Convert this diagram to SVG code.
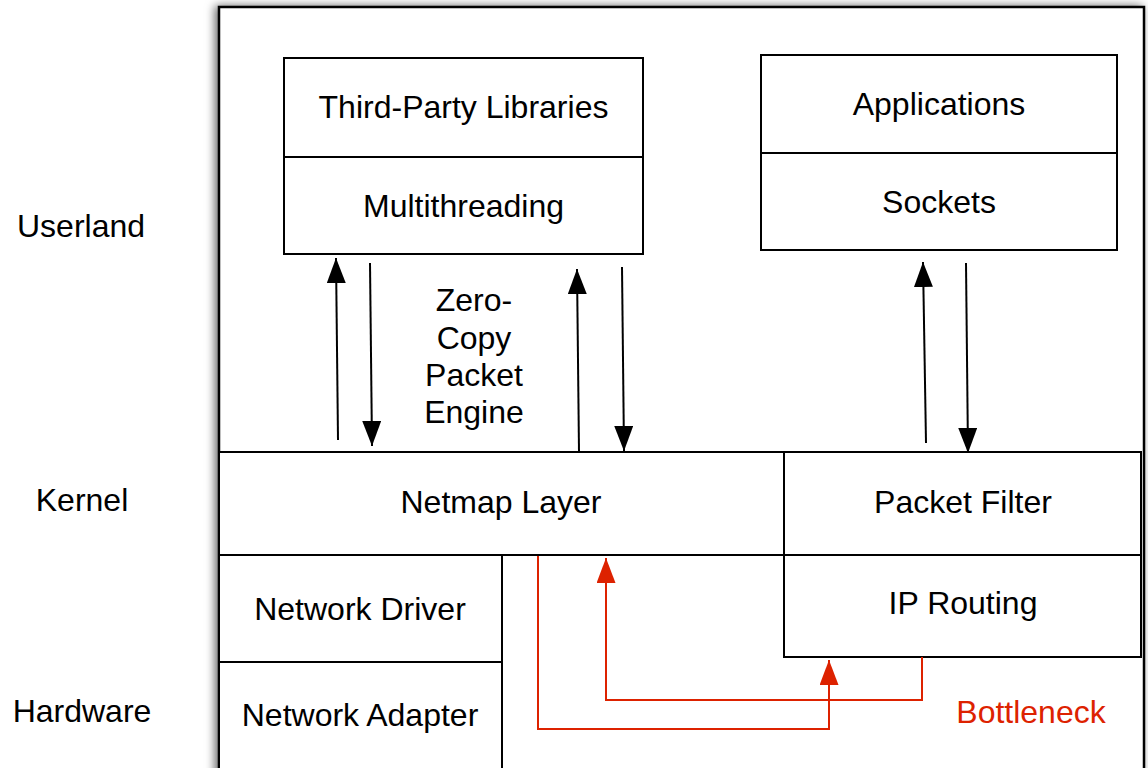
<svg xmlns="http://www.w3.org/2000/svg" width="1148" height="768" viewBox="0 0 1148 768">
  <style>
    .box { fill: #ffffff; stroke: #000000; stroke-width: 2; }
    .lbl { font-family: "Liberation Sans", Arial, Helvetica, sans-serif; font-size: 32px; fill: #000000; text-anchor: middle; }
    .red { fill: #dd2200; }
    .arr { stroke: #000000; stroke-width: 2; fill: none; marker-end: url(#ah); }
    .rarr { stroke: #dd2200; stroke-width: 2; fill: none; }
  </style>
  <defs>
    <marker id="ah" viewBox="0 0 25 19" refX="25" refY="9.5" markerWidth="25" markerHeight="19" markerUnits="userSpaceOnUse" orient="auto">
      <path d="M0,0 L25,9.5 L0,19 Z" fill="#000000"/>
    </marker>
    <marker id="rh" viewBox="0 0 25 19" refX="25" refY="9.5" markerWidth="25" markerHeight="19" markerUnits="userSpaceOnUse" orient="auto">
      <path d="M0,0 L25,9.5 L0,19 Z" fill="#dd2200"/>
    </marker>
    <filter id="shadow" x="-5%" y="-5%" width="110%" height="110%">
      <feDropShadow dx="-3" dy="0" stdDeviation="5" flood-color="#000000" flood-opacity="0.6"/>
    </filter>
  </defs>

  <rect width="1148" height="768" fill="#ffffff"/>

  <!-- outer frame -->
  <g id="frame">
    <rect x="219" y="7" width="925" height="790" fill="#ffffff" stroke="#000000" stroke-width="2.5" filter="url(#shadow)"/>
  </g>

  <!-- layer labels -->
  <g id="layer-labels">
    <text class="lbl" x="81" y="237">Userland</text>
    <text class="lbl" x="82" y="511">Kernel</text>
    <text class="lbl" x="82" y="722">Hardware</text>
  </g>

  <!-- userland stacks -->
  <g id="third-party">
    <rect class="box" x="284" y="58" width="359" height="99"/>
    <text class="lbl" x="463.5" y="118">Third-Party Libraries</text>
  </g>
  <g id="multithreading">
    <rect class="box" x="284" y="157" width="359" height="97"/>
    <text class="lbl" x="463.5" y="217">Multithreading</text>
  </g>
  <g id="applications">
    <rect class="box" x="761" y="55" width="356" height="98"/>
    <text class="lbl" x="939" y="115">Applications</text>
  </g>
  <g id="sockets">
    <rect class="box" x="761" y="153" width="356" height="97"/>
    <text class="lbl" x="939" y="213">Sockets</text>
  </g>

  <g id="zero-copy">
    <text class="lbl" x="474" y="311">Zero-</text>
    <text class="lbl" x="474" y="349">Copy</text>
    <text class="lbl" x="474" y="386">Packet</text>
    <text class="lbl" x="474" y="423">Engine</text>
  </g>

  <!-- kernel -->
  <g id="netmap">
    <rect class="box" x="219" y="452" width="565" height="103"/>
    <text class="lbl" x="501" y="513">Netmap Layer</text>
  </g>
  <g id="packet-filter">
    <rect class="box" x="784" y="452" width="357" height="103"/>
    <text class="lbl" x="963" y="513">Packet Filter</text>
  </g>
  <g id="ip-routing">
    <rect class="box" x="784" y="555" width="357" height="102"/>
    <text class="lbl" x="963" y="614">IP Routing</text>
  </g>

  <!-- drivers / hardware -->
  <g id="network-driver">
    <rect class="box" x="219" y="555" width="283" height="107"/>
    <text class="lbl" x="360" y="620">Network Driver</text>
  </g>
  <g id="network-adapter">
    <rect class="box" x="219" y="662" width="283" height="120"/>
    <text class="lbl" x="360" y="726">Network Adapter</text>
  </g>

  <g id="bottleneck">
    <text class="lbl red" x="1031" y="723">Bottleneck</text>
  </g>

  <!-- connectors -->
  <g id="connectors">
    <line class="arr" x1="338" y1="440" x2="336" y2="258"/>
    <line class="arr" x1="370" y1="263" x2="372" y2="446"/>
    <line class="arr" x1="579" y1="452" x2="577" y2="269"/>
    <line class="arr" x1="622" y1="267" x2="624" y2="451"/>
    <line class="arr" x1="926" y1="443" x2="923" y2="262"/>
    <line class="arr" x1="966" y1="263" x2="968" y2="453"/>
    <polyline class="rarr" points="538,556 538,729 829,729 829,660" marker-end="url(#rh)"/>
    <polyline class="rarr" points="922,657 922,700 606,700 606,558" marker-end="url(#rh)"/>
  </g>
</svg>
